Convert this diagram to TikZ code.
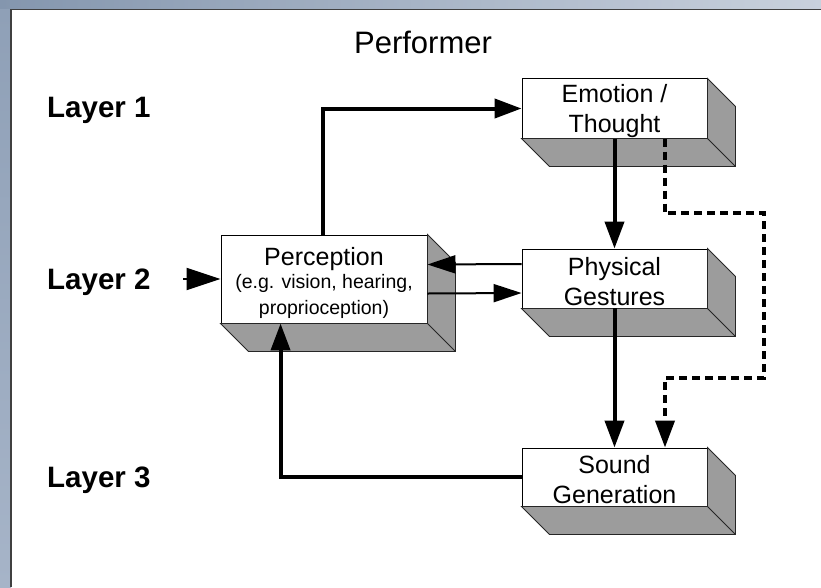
\documentclass[tikz,border=0pt]{standalone}
\usepackage{fontspec}
\setmainfont{Liberation Sans}
\usetikzlibrary{arrows.meta,calc}

\definecolor{bandleft}{HTML}{8496AE}
\definecolor{bandright}{HTML}{C9D1DD}
\definecolor{coltop}{HTML}{8FA0B7}
\definecolor{colbottom}{HTML}{A6B4C8}
\definecolor{facegrey}{HTML}{9C9C9C}

% zero-width strut that lowers a centred block of lines
\newcommand{\lift}[1]{\rule{0pt}{#1}}

\tikzset{
  frontface/.style={draw=black, line width=0.9pt, fill=white, inner sep=0pt,
    align=center, font=\fontsize{25pt}{30pt}\selectfont},
  sideface/.style={fill=facegrey, draw=black!85, line width=0.9pt, line join=miter},
  layerlabel/.style={anchor=west, inner sep=0pt, font=\bfseries\fontsize{29.5pt}{31pt}\selectfont},
  thickflow/.style={line width=4pt, -{Triangle[length=27pt,width=19pt]}},
  thinflow/.style={line width=2pt, -{Triangle[length=28pt,width=18pt]}},
  dashflow/.style={line width=4pt, dash pattern=on 8pt off 5pt, -{Triangle[length=27pt,width=19pt]}},
}

% grey top and right faces behind a front face
\newcommand{\boxdepth}[1]{%
  \filldraw[sideface] (#1.north east) -- ([shift={(28pt,-28pt)}]#1.north east)
    -- ([shift={(28pt,-28pt)}]#1.south east) -- ([shift={(28pt,-28pt)}]#1.south west)
    -- (#1.south west) -- (#1.south east) -- cycle;
  \draw[black!85, line width=0.9pt] (#1.south east) -- ([shift={(28pt,-28pt)}]#1.south east);
}

\begin{document}
\begin{tikzpicture}[x=1pt, y=-1pt]
  \useasboundingbox (0,0) rectangle (821,587);

  % slide frame
  \shade[left color=bandleft, right color=bandright] (0,0) rectangle (821,9);
  \shade[top color=coltop, bottom color=colbottom] (0,9) rectangle (11,587);
  \fill[white] (11,9) rectangle (821,587);
  \draw[black!75, line width=1.2pt] (11,587) -- (11,9.5) -- (821,9.5);

  % title and layer labels
  \node[font=\fontsize{31pt}{33pt}\selectfont] (title) at (423,42) {Performer};
  \node[layerlabel] (l1) at (47,110) {Layer 1};
  \node[layerlabel] (l2) at (47,282) {Layer 2};
  \node[layerlabel] (l3) at (47,480) {Layer 3};

  % front faces
  \node[frontface, minimum width=185pt, minimum height=59pt]
    (emo) at (614.5,108.5) {\lift{24pt}Emotion /\\Thought};
  \node[frontface, minimum width=185pt, minimum height=59pt]
    (phys) at (614.5,278.5) {\lift{24pt}Physical\\Gestures};
  \node[frontface, minimum width=185pt, minimum height=58pt]
    (snd) at (614.5,477) {\lift{24pt}Sound\\Generation};
  \node[frontface, minimum width=206pt, minimum height=88pt]
    (perc) at (324,279)
    {\lift{26pt}Perception\\[-7pt]{\fontsize{19.5pt}{21pt}\selectfont (e.g. vision, hearing,}\\[-4pt]
     {\fontsize{19.5pt}{21pt}\selectfont proprioception)}};

  \boxdepth{emo}
  \boxdepth{phys}
  \boxdepth{snd}
  \boxdepth{perc}

  % connectors
  \coordinate (inlet) at (183,279);
  \draw[line width=2pt, -{Triangle[length=34pt,width=22pt]}] (inlet) -- (perc.west);

  \draw[thickflow] ([xshift=-1pt]perc.north) |- (emo.west);
  \draw[thickflow] (emo.south) -- (phys.north);
  \draw[thickflow] (phys.south) -- (snd.north);
  \draw[thinflow] ([yshift=14.5pt]phys.west) -- ([yshift=14.5pt]perc.east);
  \draw[thinflow] ([yshift=-14.5pt]perc.east) -- ([yshift=-14.5pt]phys.west);
  \draw[thickflow] (snd.west) -| ([xshift=60pt]perc.south west);

  \coordinate (bendA) at (764,213);
  \coordinate (bendB) at (665,378);
  \draw[dashflow] ([xshift=50pt]emo.south) |- (bendA) |- (bendB) -- (bendB |- snd.north);
\end{tikzpicture}
\end{document}
